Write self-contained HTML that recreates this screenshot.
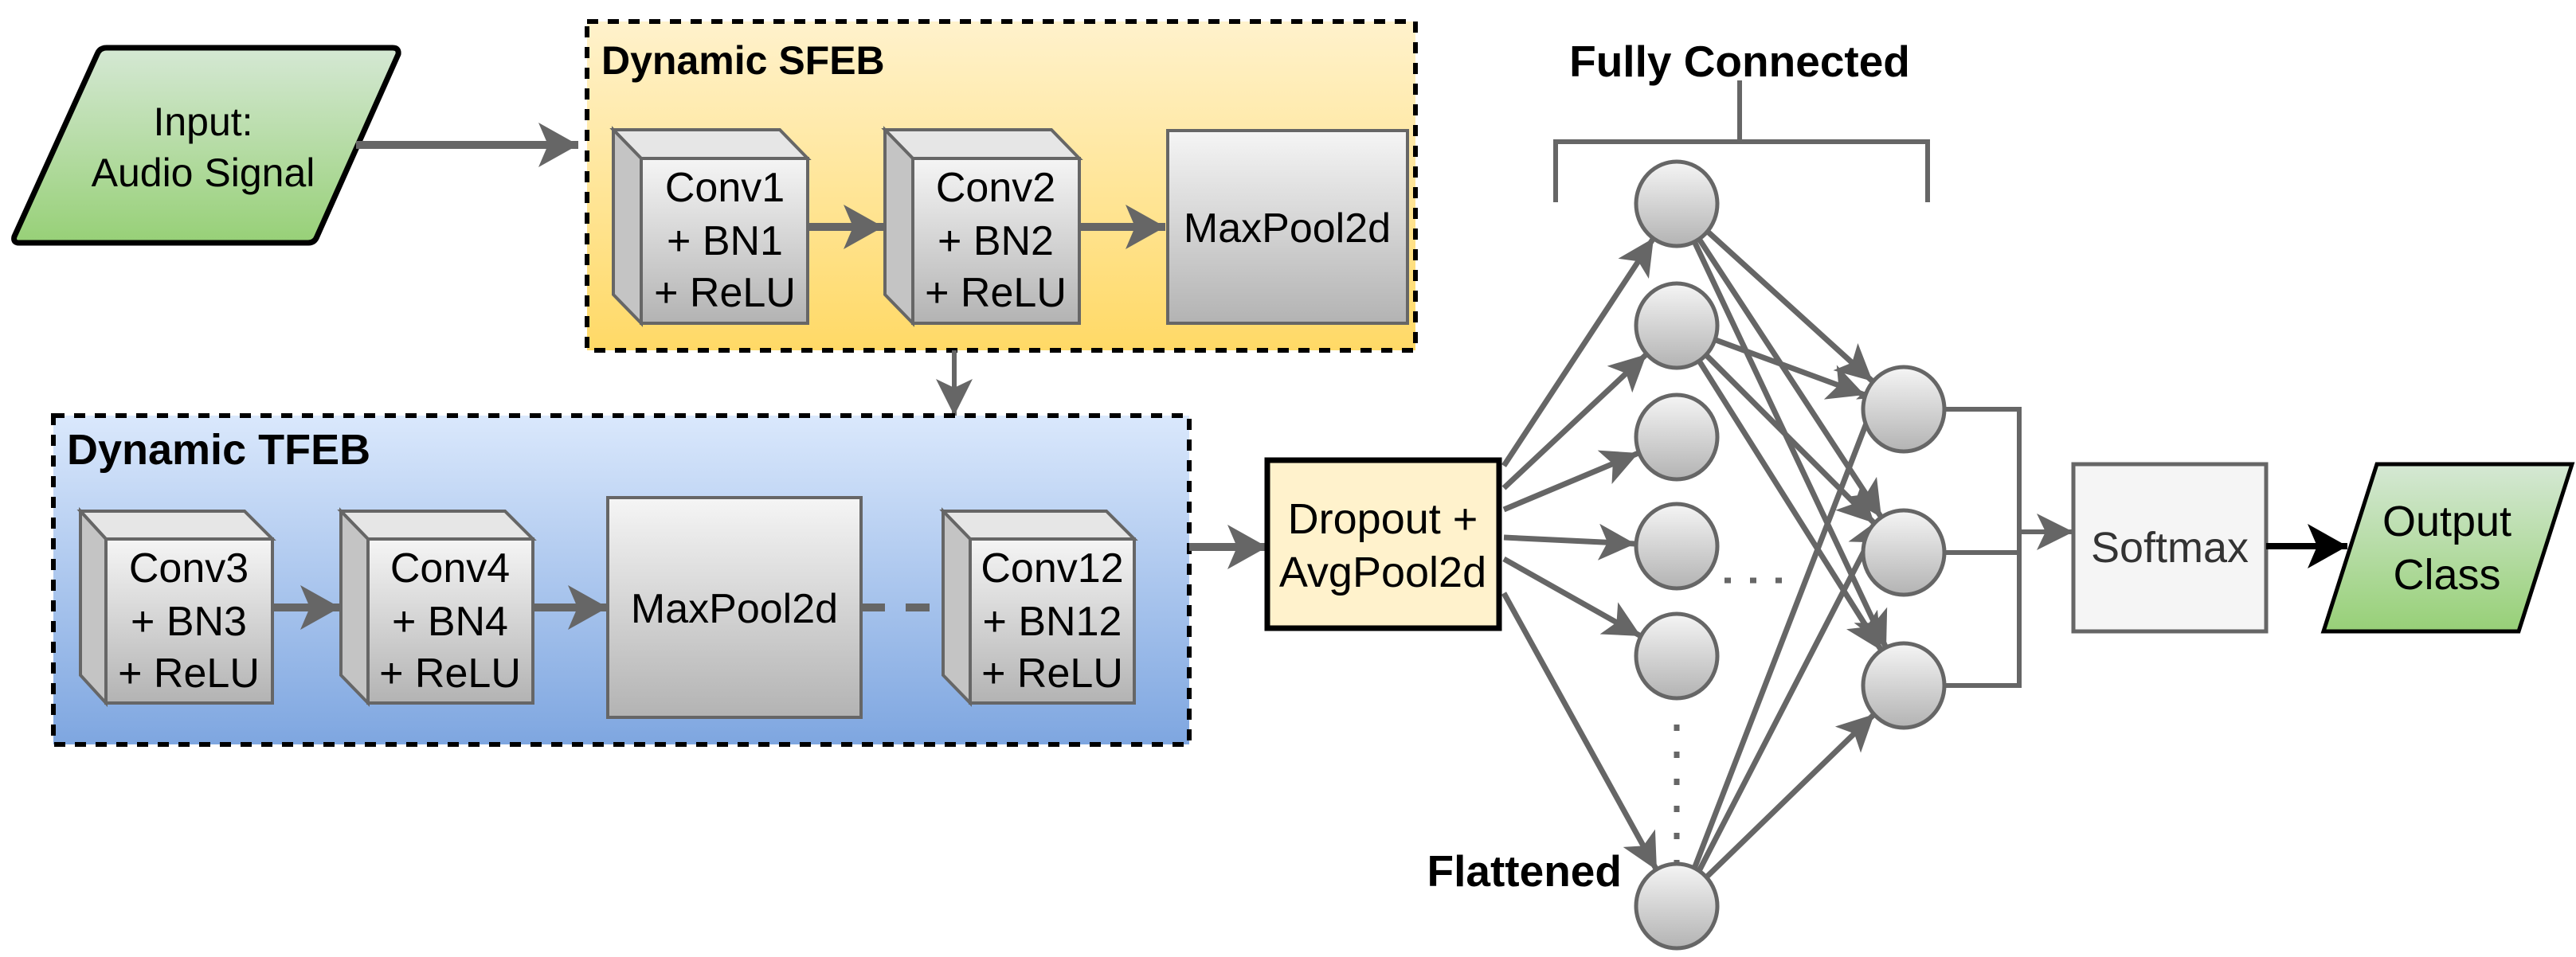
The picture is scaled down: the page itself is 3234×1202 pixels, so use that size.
<!DOCTYPE html>
<html><head><meta charset="utf-8"><style>
html,body{margin:0;padding:0;background:#fff;}
svg{display:block;}
text{font-family:"Liberation Sans",Arial,sans-serif;}
</style></head><body>
<svg width="3234" height="1202" viewBox="0 0 3234 1202" xmlns="http://www.w3.org/2000/svg">
<defs>
<linearGradient id="gGreen" x1="0" y1="0" x2="0" y2="1"><stop offset="0" stop-color="#d5e8d4"/><stop offset="1" stop-color="#97d077"/></linearGradient>
<linearGradient id="gYellow" x1="0" y1="0" x2="0" y2="1"><stop offset="0" stop-color="#fff2cc"/><stop offset="1" stop-color="#ffd966"/></linearGradient>
<linearGradient id="gBlue" x1="0" y1="0" x2="0" y2="1"><stop offset="0" stop-color="#dae8fc"/><stop offset="1" stop-color="#7ea6e0"/></linearGradient>
<linearGradient id="gGray" x1="0" y1="0" x2="0" y2="1"><stop offset="0" stop-color="#f5f5f5"/><stop offset="1" stop-color="#b3b3b3"/></linearGradient>
<marker id="aBig" markerUnits="userSpaceOnUse" markerWidth="54" markerHeight="56" refX="50" refY="28" orient="auto" viewBox="0 0 54 56"><path d="M0,0 L50,28 L0,56 L12,28 Z" fill="#666"/></marker>
<marker id="aSm" markerUnits="userSpaceOnUse" markerWidth="48" markerHeight="46" refX="46" refY="23" orient="auto" viewBox="0 0 48 46"><path d="M0,0 L46,23 L0,46 L11,23 Z" fill="#666"/></marker>
<marker id="aBlk" markerUnits="userSpaceOnUse" markerWidth="54" markerHeight="56" refX="50" refY="28" orient="auto" viewBox="0 0 54 56"><path d="M0,0 L50,28 L0,56 L12,28 Z" fill="#000"/></marker>
</defs>

<!-- Input -->
<path d="M134,60 L493,60 Q501,60 500,68 L398,297 Q395,305 387,305 L24,305 Q16,305 18,297 L122,68 Q125,60 134,60 Z" fill="url(#gGreen)" stroke="#000" stroke-width="7"/>
<text x="255" y="170" font-size="50" text-anchor="middle">Input:</text>
<text x="255" y="234" font-size="50" text-anchor="middle">Audio Signal</text>
<line x1="447" y1="182" x2="726" y2="182" stroke="#666" stroke-width="10" marker-end="url(#aBig)"/>

<!-- SFEB -->
<rect x="737" y="27" width="1040" height="413" fill="url(#gYellow)" stroke="#000" stroke-width="6" stroke-dasharray="14,12"/>
<text x="755" y="93" font-size="50" font-weight="bold">Dynamic SFEB</text>

<g stroke="#666" stroke-width="4">
<polygon points="770,163 979,163 1014,199 805,199" fill="#e6e6e6"/>
<polygon points="770,163 805,199 805,406 770,370" fill="#c4c4c4"/>
<rect x="805" y="199" width="209" height="207" fill="url(#gGray)"/>
<polygon points="1111,163 1320,163 1355,199 1146,199" fill="#e6e6e6"/>
<polygon points="1111,163 1146,199 1146,406 1111,370" fill="#c4c4c4"/>
<rect x="1146" y="199" width="209" height="207" fill="url(#gGray)"/>
<rect x="1466" y="164" width="301" height="242" fill="url(#gGray)"/>
</g>
<g font-size="52" text-anchor="middle">
<text x="910" y="253">Conv1</text><text x="910" y="320">+ BN1</text><text x="910" y="385">+ ReLU</text>
<text x="1250" y="253">Conv2</text><text x="1250" y="320">+ BN2</text><text x="1250" y="385">+ ReLU</text>
<text x="1616" y="304">MaxPool2d</text>
</g>
<line x1="1014" y1="285" x2="1109" y2="285" stroke="#666" stroke-width="10" marker-end="url(#aBig)"/>
<line x1="1355" y1="285" x2="1463" y2="285" stroke="#666" stroke-width="10" marker-end="url(#aBig)"/>
<line x1="1198" y1="440" x2="1198" y2="522" stroke="#666" stroke-width="6" marker-end="url(#aSm)"/>

<!-- TFEB -->
<rect x="67" y="522" width="1426" height="413" fill="url(#gBlue)" stroke="#000" stroke-width="6" stroke-dasharray="14,12"/>
<text x="84" y="583" font-size="54" font-weight="bold">Dynamic TFEB</text>
<g stroke="#666" stroke-width="4">
<polygon points="101,642 307,642 342,677 133,677" fill="#e6e6e6"/>
<polygon points="101,642 133,677 133,883 101,848" fill="#c4c4c4"/>
<rect x="133" y="677" width="209" height="206" fill="url(#gGray)"/>
<polygon points="428,642 634,642 669,677 462,677" fill="#e6e6e6"/>
<polygon points="428,642 462,677 462,883 428,848" fill="#c4c4c4"/>
<rect x="462" y="677" width="207" height="206" fill="url(#gGray)"/>
<rect x="763" y="625" width="318" height="276" fill="url(#gGray)"/>
<polygon points="1184,642 1389,642 1424,677 1218,677" fill="#e6e6e6"/>
<polygon points="1184,642 1218,677 1218,883 1184,848" fill="#c4c4c4"/>
<rect x="1218" y="677" width="206" height="206" fill="url(#gGray)"/>
</g>
<g font-size="52" text-anchor="middle">
<text x="237" y="731">Conv3</text><text x="237" y="798">+ BN3</text><text x="237" y="863">+ ReLU</text>
<text x="565" y="731">Conv4</text><text x="565" y="798">+ BN4</text><text x="565" y="863">+ ReLU</text>
<text x="922" y="782">MaxPool2d</text>
<text x="1321" y="731">Conv12</text><text x="1321" y="798">+ BN12</text><text x="1321" y="863">+ ReLU</text>
</g>
<line x1="342" y1="763" x2="427" y2="763" stroke="#666" stroke-width="10" marker-end="url(#aBig)"/>
<line x1="669" y1="763" x2="763" y2="763" stroke="#666" stroke-width="10" marker-end="url(#aBig)"/>
<line x1="1081" y1="763" x2="1184" y2="763" stroke="#666" stroke-width="10" stroke-dasharray="30,26"/>
<line x1="1493" y1="687" x2="1591" y2="687" stroke="#666" stroke-width="10" marker-end="url(#aBig)"/>

<!-- Dropout -->
<rect x="1591" y="578" width="291" height="211" fill="#fff2cc" stroke="#000" stroke-width="7"/>
<text x="1736" y="670" font-size="54" text-anchor="middle">Dropout +</text>
<text x="1736" y="737" font-size="54" text-anchor="middle">AvgPool2d</text>

<!-- Fully connected label & bracket -->
<text x="2184" y="96" font-size="55" font-weight="bold" text-anchor="middle">Fully Connected</text>
<path d="M2184,101 L2184,178 M1953,254 L1953,178 L2420,178 L2420,254" fill="none" stroke="#666" stroke-width="6"/>

<g stroke="#666" stroke-width="7" fill="none" marker-end="url(#aSm)">
<line x1="1888" y1="585" x2="2076" y2="299"/>
<line x1="1888" y1="613" x2="2067" y2="445"/>
<line x1="1888" y1="640" x2="2057" y2="569"/>
<line x1="1888" y1="675" x2="2053" y2="683"/>
<line x1="1888" y1="702" x2="2060" y2="799"/>
<line x1="1888" y1="745" x2="2080" y2="1093"/>
<line x1="2144" y1="291" x2="2351" y2="479"/>
<line x1="2133" y1="300" x2="2362" y2="650"/>
<line x1="2127" y1="303" x2="2368" y2="814"/>
<line x1="2154" y1="427" x2="2341" y2="496"/>
<line x1="2142" y1="446" x2="2353" y2="657"/>
<line x1="2133" y1="453" x2="2362" y2="817"/>
<line x1="2127" y1="1091" x2="2368" y2="467"/>
<line x1="2133" y1="1094" x2="2362" y2="650"/>
<line x1="2142" y1="1102" x2="2353" y2="897"/>
</g>
<line x1="2165" y1="729" x2="2256" y2="729" stroke="#666" stroke-width="7" stroke-dasharray="8,24"/>
<line x1="2105" y1="910" x2="2105" y2="1085" stroke="#666" stroke-width="7" stroke-dasharray="8,26"/>

<g fill="url(#gGray)" stroke="#666" stroke-width="5">
<ellipse cx="2105" cy="256" rx="51" ry="53"/>
<ellipse cx="2105" cy="409" rx="51" ry="53"/>
<ellipse cx="2105" cy="549" rx="51" ry="53"/>
<ellipse cx="2105" cy="686" rx="51" ry="53"/>
<ellipse cx="2105" cy="824" rx="51" ry="53"/>
<ellipse cx="2105" cy="1138" rx="51" ry="53"/>
<ellipse cx="2390" cy="514" rx="51" ry="53"/>
<ellipse cx="2390" cy="694" rx="51" ry="53"/>
<ellipse cx="2390" cy="861" rx="51" ry="53"/>
</g>
<text x="2036" y="1113" font-size="55" font-weight="bold" text-anchor="end">Flattened</text>

<path d="M2441,514 L2535,514 L2535,861 L2441,861 M2441,694 L2535,694" fill="none" stroke="#666" stroke-width="6"/>
<line x1="2535" y1="668" x2="2603" y2="668" stroke="#666" stroke-width="6" marker-end="url(#aSm)"/>
<rect x="2603" y="583" width="242" height="210" fill="#f5f5f5" stroke="#666" stroke-width="5"/>
<text x="2724" y="706" font-size="54" text-anchor="middle" fill="#333">Softmax</text>
<line x1="2845" y1="686" x2="2947" y2="686" stroke="#000" stroke-width="8" marker-end="url(#aBlk)"/>

<polygon points="2984,583 3229,583 3162,793 2917,793" fill="url(#gGreen)" stroke="#000" stroke-width="5"/>
<text x="3072" y="673" font-size="54" text-anchor="middle">Output</text>
<text x="3072" y="740" font-size="54" text-anchor="middle">Class</text>
</svg>
</body></html>
